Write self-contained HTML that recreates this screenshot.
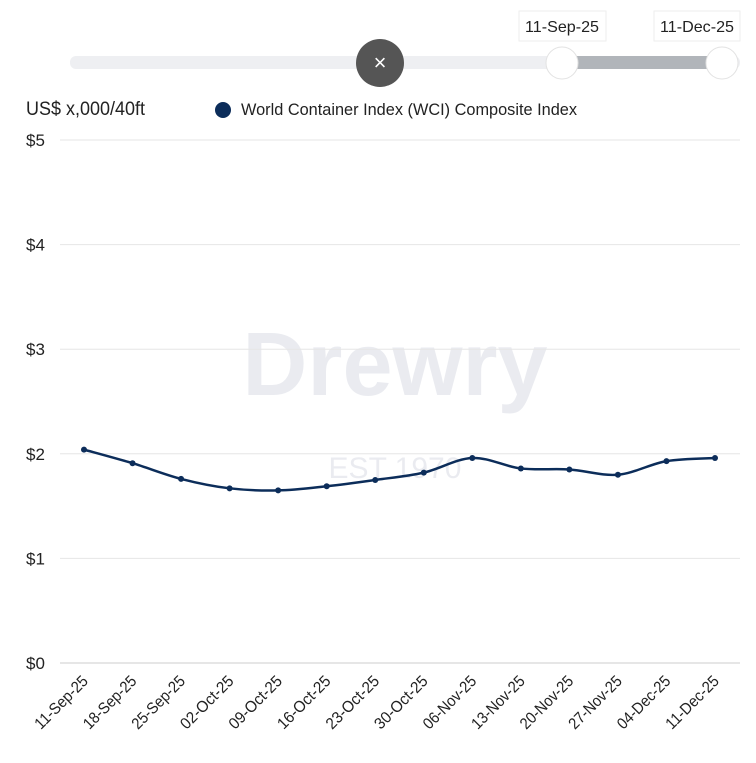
<!DOCTYPE html>
<html><head><meta charset="utf-8"><style>
body{margin:0;background:#fff;width:756px;height:758px;overflow:hidden;font-family:"Liberation Sans Narrow","Liberation Sans",sans-serif}
</style></head><body>
<svg width="756" height="758" xmlns="http://www.w3.org/2000/svg" font-family="Liberation Sans Narrow, Liberation Sans, sans-serif">
<g>
<rect x="70" y="56" width="670" height="13" rx="6" fill="#eeeff2"/>
<rect x="562" y="56" width="160" height="13" fill="#b1b5ba"/>
<circle cx="380" cy="63" r="24" fill="#555"/>
<text x="380" y="70" font-size="22" fill="#fff" text-anchor="middle" font-family="Liberation Sans, sans-serif">×</text>
<circle cx="562" cy="63" r="16" fill="#fff" stroke="#e2e2e2"/>
<circle cx="722" cy="63" r="16" fill="#fff" stroke="#e2e2e2"/>
<rect x="519" y="11" width="87" height="30" fill="#fff" stroke="#eee"/>
<text x="562" y="32" font-size="16" text-anchor="middle" fill="#222" textLength="74" lengthAdjust="spacingAndGlyphs">11-Sep-25</text>
<rect x="654" y="11" width="86" height="30" fill="#fff" stroke="#eee"/>
<text x="697" y="32" font-size="16" text-anchor="middle" fill="#222" textLength="74" lengthAdjust="spacingAndGlyphs">11-Dec-25</text>
</g>
<text x="26" y="115" font-size="19" fill="#222" textLength="119" lengthAdjust="spacingAndGlyphs">US$ x,000/40ft</text>
<g>
<circle cx="223" cy="110" r="8" fill="#0c2d5a"/>
<text x="241" y="115" font-size="17" fill="#222" textLength="336" lengthAdjust="spacingAndGlyphs">World Container Index (WCI) Composite Index</text>
</g>
<g opacity="0.1">
<text x="395" y="395" font-size="90" font-weight="bold" text-anchor="middle" fill="#3a4a78" font-family="Liberation Sans, sans-serif">Drewry</text>
<text x="395" y="478" font-size="30" text-anchor="middle" fill="#3a4a78" font-family="Liberation Sans, sans-serif">EST 1970</text>
</g>
<g id="grid"></g><g id="xl"></g><g id="series"></g>
</svg>
<script>
const categories=["11-Sep-25","18-Sep-25","25-Sep-25","02-Oct-25","09-Oct-25","16-Oct-25","23-Oct-25","30-Oct-25","06-Nov-25","13-Nov-25","20-Nov-25","27-Nov-25","04-Dec-25","11-Dec-25"];
const values=[2.04,1.91,1.76,1.67,1.65,1.69,1.75,1.82,1.96,1.86,1.85,1.80,1.93,1.96];
const yTicks=[0,1,2,3,4,5];
const yTickLabels=["$0","$1","$2","$3","$4","$5"];
const NS="http://www.w3.org/2000/svg";
const y=v=>663-v*104.6;
const x=i=>84+i*(715-84)/(categories.length-1);
function mk(t,a,p){const e=document.createElementNS(NS,t);for(const k in a)e.setAttribute(k,a[k]);p.appendChild(e);return e;}
const g=document.getElementById('grid');
yTicks.forEach((v,i)=>{
const l=mk('line',{x1:60,x2:740,y1:y(v),y2:y(v),stroke:i==0?'#ccc':'#e6e6e6'},g);


const t=mk('text',{x:26,y:y(v)+6,'font-size':17,fill:'#222'},g);t.textContent=yTickLabels[i];


});
const xl=document.getElementById('xl');
categories.forEach((c,i)=>{
const t=mk('text',{x:x(i)+5,y:682,'font-size':16,fill:'#222','text-anchor':'end',textLength:68,lengthAdjust:'spacingAndGlyphs',transform:`rotate(-45 ${x(i)+5} 682)`},xl);t.textContent=c;


});
const s=document.getElementById('series');
let d='';const pts=values.map((v,i)=>[x(i),y(v)]);
d='M'+pts[0];
for(let i=0;i<pts.length-1;i++){const p0=pts[i-1]||pts[i],p1=pts[i],p2=pts[i+1],p3=pts[i+2]||p2;
d+=` C${p1[0]+(p2[0]-p0[0])/6},${p1[1]+(p2[1]-p0[1])/6} ${p2[0]-(p3[0]-p1[0])/6},${p2[1]-(p3[1]-p1[1])/6} ${p2[0]},${p2[1]}`;}
const line=mk('path',{d:d,fill:'none',stroke:'#0c2d5a','stroke-width':2.5},s);


pts.forEach(p=>{const c=mk('circle',{cx:p[0],cy:p[1],r:3,fill:'#0c2d5a'},s);

});
</script>
</body></html>
